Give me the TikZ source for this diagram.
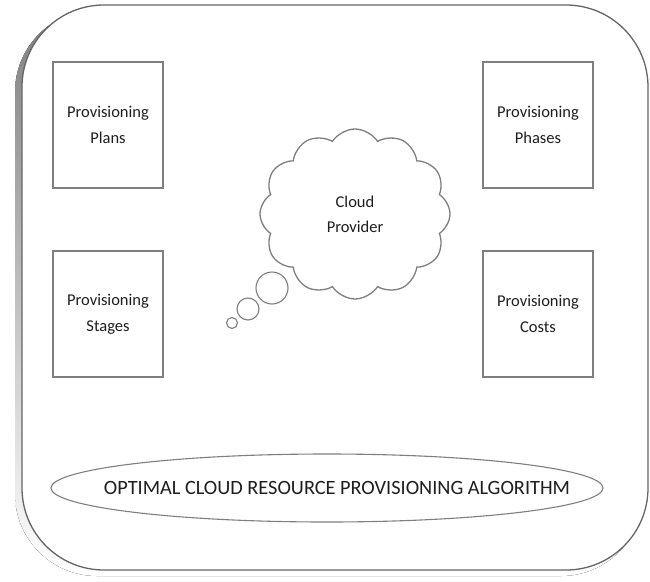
\documentclass[tikz,border=0pt]{standalone}
\usepackage{fontspec}
\setmainfont{Carlito}
\usetikzlibrary{shapes.symbols,shapes.geometric}
\definecolor{edge}{HTML}{7F7F7F}
\definecolor{shade}{HTML}{A6A6A6}
\definecolor{ink}{HTML}{1E1E1E}
\tikzset{
  pane/.style={draw=edge, line width=1.4pt, fill=white, minimum width=110pt,
    minimum height=126pt, align=center, font=\fontsize{16.5}{26}\selectfont, text=ink},
  bubble/.style={circle, draw=edge, line width=1.1pt, fill=white, inner sep=0pt},
}
\begin{document}
\begin{tikzpicture}[x=1pt,y=-1pt]
  \useasboundingbox (0,0) rectangle (650,581);
  % frame shadow and frame
  \fill[shade, rounded corners=82pt] (15,10) rectangle (643,576);
  \draw[edge!80!black, line width=1.3pt, fill=white, rounded corners=82pt]
    (22,5) rectangle (648,570);
  % four corner panes
  \node[pane] (plans)  at (108,125) {Provisioning\\Plans};
  \node[pane] (phases) at (538,125) {Provisioning\\Phases};
  \node[pane] (stages) at (108,314) {Provisioning\\Stages};
  \node[pane] (costs)  at (538,314) {Provisioning\\Costs};
  % thought cloud
  \node[cloud, cloud puffs=12, cloud puff arc=115, draw=edge, line width=1.3pt,
    fill=white, minimum width=190pt, minimum height=170pt, align=center,
    font=\fontsize{16.5}{25}\selectfont, text=ink] (cloud) at (355,214)
    {Cloud\\Provider};
  \node[bubble, minimum size=32pt] (b1) at (272,288) {};
  \node[bubble, minimum size=22pt] (b2) at (248,309) {};
  \node[bubble, minimum size=11pt] (b3) at (232,323) {};
  % algorithm banner
  \node[ellipse, draw=edge, line width=1.1pt, fill=white, minimum width=552pt,
    minimum height=68pt] (algo) at (327,488) {};
  \node[font=\fontsize{20.3}{24}\selectfont, text=ink] (algotext) at (337,488)
    {OPTIMAL CLOUD RESOURCE PROVISIONING ALGORITHM};
\end{tikzpicture}
\end{document}
